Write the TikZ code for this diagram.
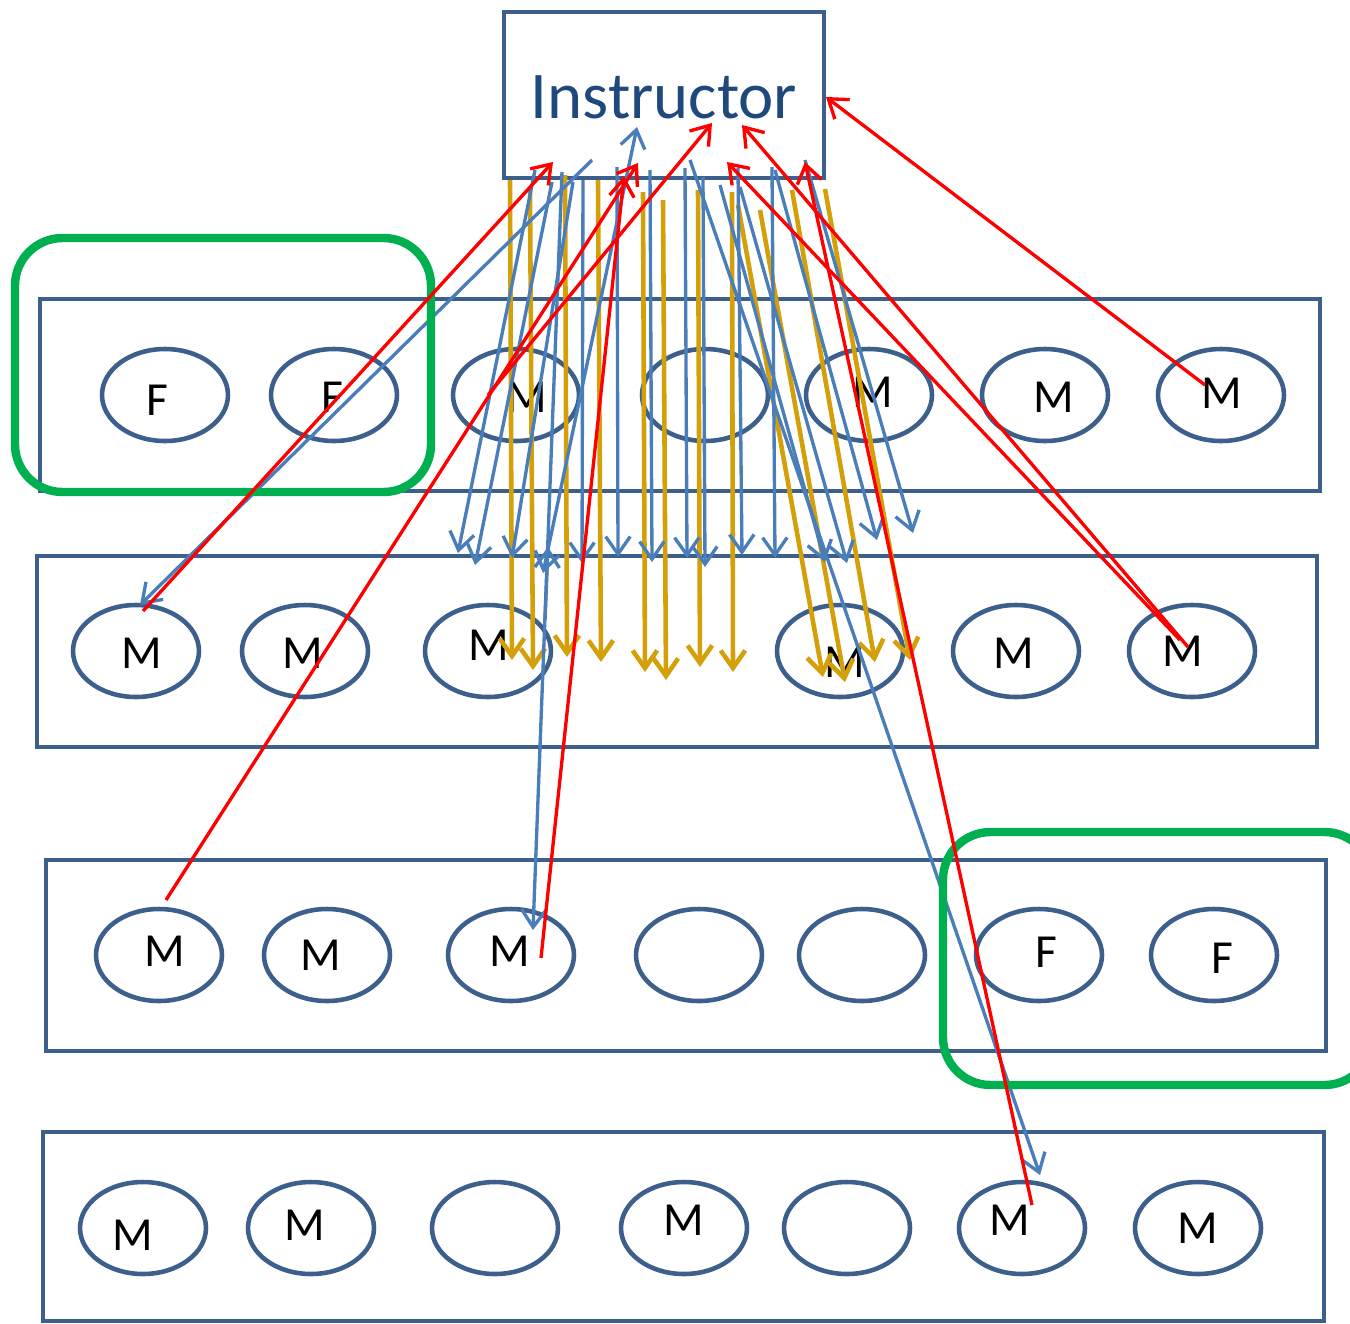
\documentclass[tikz,border=0pt]{standalone}
\usepackage{fontspec}
\setmainfont{Carlito}
\usetikzlibrary{arrows.meta,shapes.geometric}
\definecolor{boxblue}{RGB}{60,95,140}
\definecolor{arrowblue}{RGB}{74,126,187}
\definecolor{goldc}{RGB}{212,160,10}
\definecolor{greenc}{RGB}{0,176,80}
\definecolor{redc}{RGB}{255,0,0}
\definecolor{titleblue}{RGB}{31,73,125}
\begin{document}
\begin{tikzpicture}[x=0.02cm,y=-0.02cm,
  rowbox/.style={draw=boxblue,line width=2.6pt},
  seat/.style={ellipse,draw=boxblue,line width=2.6pt,minimum width=2.52cm,minimum height=1.84cm,inner sep=0pt},
  lbl/.style={inner sep=0pt,font=\fontsize{27pt}{32pt}\selectfont},
  greenbox/.style={draw=greenc,line width=4.8pt,rounded corners=0.95cm},
  tip/.style={-{Straight Barb[length=10pt,width=14pt]}},
  garrow/.style={tip,draw=goldc,line width=2.6pt},
  barrow/.style={tip,draw=arrowblue,line width=1.9pt},
  rarrow/.style={tip,draw=redc,line width=1.9pt}]
\useasboundingbox (0,0) rectangle (1350,1323);
\clip (0,0) rectangle (1350,1323);
% instructor
\node[draw=boxblue,line width=2.6pt,minimum width=6.4cm,minimum height=3.32cm,inner sep=0pt] (instr) at (664,95) {};
\node[inner sep=0pt,text=titleblue,font=\fontsize{38pt}{44pt}\selectfont] (instrtext) at (664,97) {Instructor};
% rows
\draw[rowbox] (40,299) rectangle (1320,491);
\draw[rowbox] (37,556) rectangle (1317,747);
\draw[rowbox] (46,860) rectangle (1326,1051);
\draw[rowbox] (43,1132) rectangle (1324,1321);
% seats
\foreach \x/\y [count=\i] in {165/395,334/395,516/395,705/395,869/395,1045/395,1221/395,
  136/651,305/651,488/651,840/651,1016/651,1192/651,
  159/955,327/955,511/955,699/955,862/955,1039/955,1214/955,
  143/1228,311/1228,495/1228,684/1228,847/1228,1022/1228,1198/1228}
  {\node[seat] (seat\i) at (\x,\y) {};}
% labels
\foreach \x/\y/\t [count=\i] in {157/400/F,332/397/F,527/397/M,873/392/M,1054/397/M,1222/393/M,
  142/653/M,303/653/M,489/645/M,845/662/M,1014/653/M,1183/651/M,
  165/951/M,321/955/M,510/951/M,1046/952/F,1222/958/F,
  133/1235/M,305/1225/M,684/1220/M,1010/1220/M,1198/1228/M}
  {\node[lbl] (lab\i) at (\x,\y) {\t};}
% gold arrows
\foreach \ax/\ay/\bx/\by [count=\i] in {510/180/512/660,530/188/533/670,565/175/567/657,598/180/601/662,
  643/192/645/672,663/200/666/680,698/190/700/667,732/192/733/672,
  738/205/823/677,760/210/845/682,792/190/875/662,825/189/910/660}
  {\coordinate (ga\i) at (\ax,\ay); \coordinate (gb\i) at (\bx,\by);
   \draw[garrow] (ga\i) -- (gb\i);}
% blue arrows
\foreach \ax/\ay/\bx/\by [count=\i] in {535/170/458/553,552/182/475/565,573/182/512/558,583/180/582/563,
  617/167/618/557,650/170/652/562,685/168/687/558,703/177/705/567,738/168/742/555,772/167/775/558,
  720/185/825/562,740/187/847/563,775/170/877/540,805/160/913/533,
  592/160/140/605,690/160/1040/1175,562/172/533/930,545/620/548/547}
  {\coordinate (ba\i) at (\ax,\ay); \coordinate (bb\i) at (\bx,\by);
   \draw[barrow] (ba\i) -- (bb\i);}
\coordinate (bu1) at (543,573); \coordinate (bu2) at (637,127);
\draw[barrow,{Straight Barb[length=10pt,width=14pt]}-{Straight Barb[length=10pt,width=14pt]}] (bu1) -- (bu2);
% green groups
\draw[greenbox] (15,238) rectangle (431,492);
\draw[greenbox] (943,832) rectangle (1372,1085);
% red arrows
\foreach \ax/\ay/\bx/\by [count=\i] in {143/611/553/162,166/900/638/163,488/395/712/123,541/958/624/176,
  1188/647/742/125,1180/640/727/162,1032/1205/805/162,1205/385/826/97}
  {\coordinate (ra\i) at (\ax,\ay); \coordinate (rb\i) at (\bx,\by);
   \draw[rarrow] (ra\i) -- (rb\i);}
\end{tikzpicture}
\end{document}
